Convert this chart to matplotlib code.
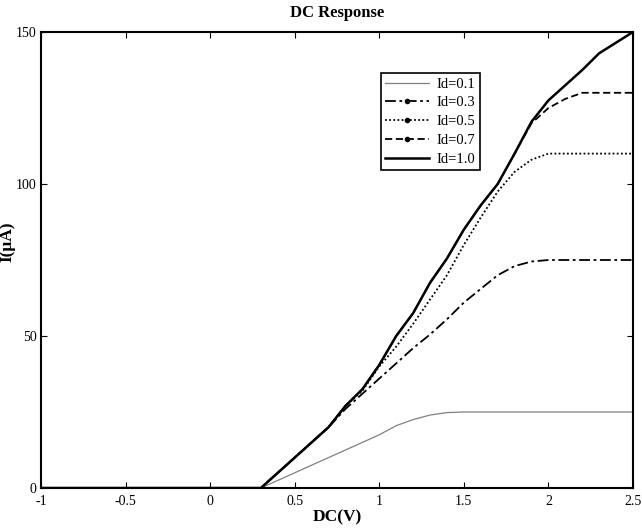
import matplotlib
matplotlib.use("Agg")
import matplotlib.pyplot as plt
from matplotlib.lines import Line2D

plt.rcParams['font.family'] = ['Liberation Serif', 'DejaVu Serif']

# Data
x_off = [-1.0, -0.5, 0.0, 0.3]
x_on = [0.4, 0.5, 0.6, 0.7, 0.8, 0.9, 1.0, 1.1, 1.2, 1.3, 1.4, 1.5, 1.6, 1.7,
        1.8, 1.9, 2.0, 2.1, 2.2, 2.3, 2.4, 2.5]
x = x_off + x_on
zeros = [0, 0, 0, 0]
id01 = zeros + [2.5, 5, 7.5, 10, 12.5, 15, 17.5, 20.5, 22.5, 24, 24.8, 25, 25, 25,
                25, 25, 25, 25, 25, 25, 25, 25]
id03 = zeros + [5, 10, 15, 20, 26, 31, 36, 41, 46, 50.5, 55.5, 61, 65.5, 70,
                73, 74.5, 75, 75, 75, 75, 75, 75]
id05 = zeros + [5, 10, 15, 20, 27, 32, 40, 46.5, 54, 62, 70, 80, 89, 97.5,
                104, 108, 110, 110, 110, 110, 110, 110]
id07 = zeros + [5, 10, 15, 20, 27, 32.5, 40.5, 50, 57.5, 67.5, 75.5, 85, 93, 100,
                110, 120, 125, 128, 130, 130, 130, 130]
id10 = zeros + [5, 10, 15, 20, 27, 32.5, 40.5, 50, 57.5, 67.5, 75.5, 85, 93, 100,
                110, 120.5, 127.5, 132.5, 137.5, 143, 146.5, 150]
labels = ['Id=0.1', 'Id=0.3', 'Id=0.5', 'Id=0.7', 'Id=1.0']
xticks = [-1, -0.5, 0, 0.5, 1, 1.5, 2, 2.5]
xticklabels = ['-1', '-0.5', '0', '0.5', '1', '1.5', '2', '2.5']
yticks = [0, 50, 100, 150]

fig = plt.figure(figsize=(6.42, 5.31), dpi=100)
ax = fig.add_axes([41/642, 1-488/531, 592/642, 456/531])

ax.plot(x, id01, color='#808080', lw=0.9)
ax.plot(x, id03, color='black', lw=1.3, linestyle=(0, (6, 2, 1.5, 2)))
ax.plot(x, id05, color='black', lw=1.3, linestyle=(0, (1, 1.3)))
ax.plot(x, id07, color='black', lw=1.3, linestyle=(0, (4, 2)))
ax.plot(x, id10, color='black', lw=1.8)

handles = [
    Line2D([], [], color='#808080', lw=0.9),
    Line2D([], [], color='black', lw=1.3, linestyle=(0, (6, 2, 1.5, 2)), marker='.', markersize=6),
    Line2D([], [], color='black', lw=1.3, linestyle=(0, (1, 1.3)), marker='.', markersize=6),
    Line2D([], [], color='black', lw=1.3, linestyle=(0, (4, 2)), marker='.', markersize=6),
    Line2D([], [], color='black', lw=1.8),
]
leg = ax.legend(handles, labels, loc='upper left', bbox_to_anchor=(340/592, 0.91),
                fontsize=10.5, frameon=True, fancybox=False, edgecolor='black',
                framealpha=1, numpoints=1, handlelength=3.0, handletextpad=0.5,
                borderpad=0.3, labelspacing=0.38, borderaxespad=0)
leg.get_frame().set_linewidth(1.2)

ax.set_xlim(-1, 2.5)
ax.set_ylim(0, 150)
ax.set_xticks(xticks)
ax.set_xticklabels(xticklabels)
ax.set_yticks(yticks)
ax.tick_params(direction='in', top=True, right=True, length=4, width=0.8,
               labelsize=10)
ax.tick_params(axis='x', pad=5)
ax.tick_params(axis='y', pad=3)
for s in ax.spines.values():
    s.set_linewidth(1.5)

ax.set_title('DC Response', fontsize=12, fontweight='bold', pad=11)
ax.set_xlabel('DC(V)', fontsize=12.5, fontweight='bold', labelpad=1)
ax.set_ylabel('I(μA)', fontsize=12.5, fontweight='bold')
ax.yaxis.set_label_coords(-26/592, 0.54)

fig.savefig('out.png', dpi=100)
